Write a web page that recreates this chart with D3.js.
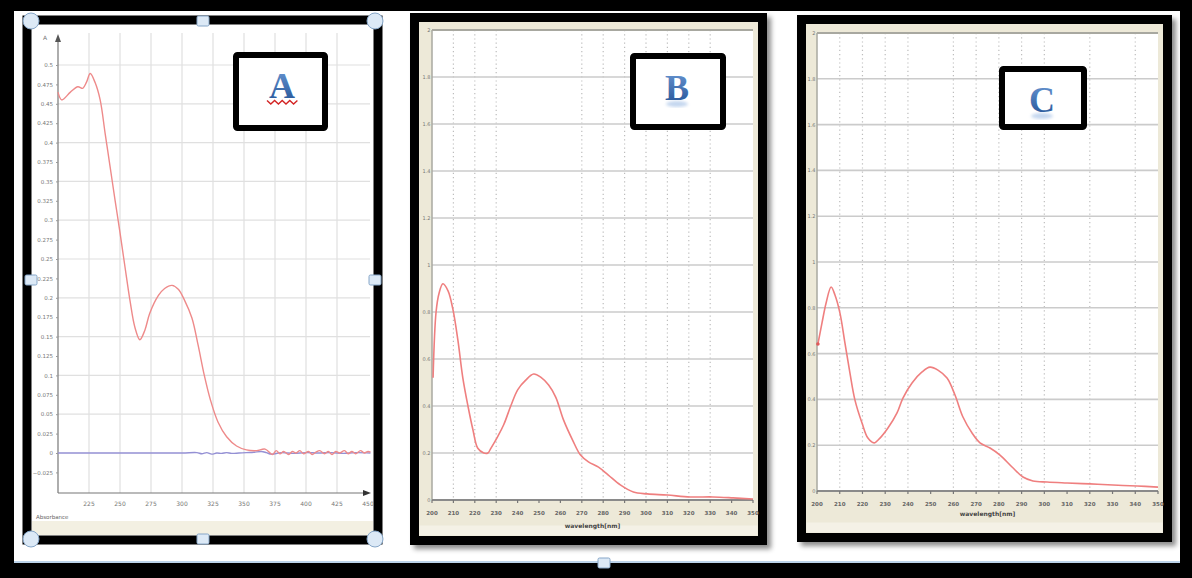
<!DOCTYPE html>
<html>
<head>
<meta charset="utf-8">
<script src="https://cdn.jsdelivr.net/npm/d3@7"></script>
<style>
body { margin: 0; background: #fff; }
svg { display: block; }
text { font-family: "DejaVu Sans", sans-serif; }
</style>
</head>
<body>
<svg id="fig" width="1192" height="578"></svg>
<script>
// ---- panel A : sample spectrum + blue baseline ----
const waveA = [200,203,210,216,220,223,226,230,234,238,242,246,250,254,258,262,266,270,274,
    281,286,292,297,302,308,313,318,323,329,336,344,352,360,367,373,
    376,379,382,386,389,392,395,398,402,405,408,411,415,418,421,424,427,431,434,437,440,444,447,450,452];
const absA = [0.465,0.455,0.465,0.472,0.470,0.478,0.489,0.477,0.455,0.412,0.369,0.326,0.284,0.240,0.197,0.162,0.146,0.158,0.180,
    0.203,0.212,0.216,0.211,0.197,0.174,0.139,0.100,0.068,0.040,0.021,0.009,0.004,0.003,0.005,-0.002,
    0.003,-0.001,0.002,-0.002,0.002,0.000,0.003,-0.001,0.002,-0.002,0.001,0.003,-0.001,0.002,-0.002,0.002,0.000,0.003,-0.001,0.002,-0.001,0.003,0.000,0.002,0.001];
const waveBaseA = [200,250,300,312,316,320,324,328,332,336,340,346,352,358,364,368,372,380,390,400,410,420,430,440,452];
const absBaseA = [0,0,0,0.0005,-0.001,0.0005,-0.0015,0,-0.0005,0.0005,-0.0005,0,0.0005,0.001,0.002,0.0005,-0.0015,0.0005,-0.0005,0.0005,0,0.0005,-0.0005,0.0005,0];
const xTicksA = [225,250,275,300,325,350,375,400,425,450];
const yTicksA = [0.5,0.475,0.45,0.425,0.4,0.375,0.35,0.325,0.3,0.275,0.25,0.225,0.2,0.175,0.15,0.125,0.1,0.075,0.05,0.025,0,-0.025];
const gridYA = [0.5,0.45,0.4,0.35,0.3,0.25,0.2,0.15,0.1,0.05];

// ---- panel B ----
const waveB = [200.5,201.9,203.3,205.1,207.5,209.8,212.1,214.4,216.8,219.1,221.4,224.2,226.1,227.5,230.7,233.5,236.8,240.1,243.8,247.5,
    250.8,254.5,257.8,261.5,265.7,269.4,273.1,277.8,282.4,288.0,294.1,300.6,309.9,320.6,331.3,340.7,350];
const absB = [0.52,0.80,0.88,0.92,0.89,0.81,0.68,0.52,0.40,0.30,0.22,0.20,0.20,0.22,0.27,0.32,0.40,0.47,0.51,0.536,
    0.523,0.489,0.438,0.34,0.255,0.191,0.162,0.14,0.106,0.064,0.034,0.026,0.021,0.013,0.013,0.009,0.004];
const gridXB = [210,220,230,270,280,290,300,310,320,330];

// ---- panel C ----
const waveC = [200.4,202.2,204.0,206.2,207.9,210.1,212.3,214.5,216.7,219.8,222.4,225.1,227.7,231.2,235.2,237.8,241.8,246.2,249.7,253.2,
    257.2,260.7,264.2,268.2,271.7,276.1,280.5,285.8,290.6,295.0,301.2,310.0,320.1,330.2,340.8,350.0];
const absC = [0.642,0.734,0.821,0.891,0.856,0.777,0.646,0.515,0.397,0.297,0.231,0.210,0.231,0.275,0.341,0.406,0.472,0.520,0.541,0.528,
    0.493,0.419,0.323,0.253,0.210,0.188,0.157,0.105,0.061,0.044,0.039,0.035,0.031,0.026,0.022,0.017];
const gridXC = [210,220,230,240,260,270,280,290,300,320,340];

// shared ticks for B and C
const xTicksBC = [200,210,220,230,240,250,260,270,280,290,300,310,320,330,340,350];
const yTicksBC = [0,0.2,0.4,0.6,0.8,1,1.2,1.4,1.6,1.8,2];
const panelLetters = ["A", "B", "C"];

let svg = d3.select("#fig");
let defs = svg.append("defs");

defs.append("filter").attr("id", "shadow")
    .attr("x", "-5%").attr("y", "-5%").attr("width", "115%").attr("height", "115%")
    .append("feDropShadow")
    .attr("dx", 4).attr("dy", 4).attr("stdDeviation", 2.5)
    .attr("flood-color", "#000").attr("flood-opacity", 0.45);
defs.append("filter").attr("id", "soft")
    .append("feGaussianBlur").attr("stdDeviation", 1.5);

let grad = defs.append("linearGradient").attr("id", "letterFill")
    .attr("x1", 0).attr("y1", 0).attr("x2", 0).attr("y2", 1);
grad.append("stop").attr("offset", "0%").attr("stop-color", "#6d9ad6");
grad.append("stop").attr("offset", "100%").attr("stop-color", "#1f4f92");

// outer black frame
svg.append("rect").attr("width", 1192).attr("height", 578).attr("fill", "#000");
svg.append("rect").attr("x", 14).attr("y", 11).attr("width", 1166).attr("height", 552).attr("fill", "#fff");
svg.append("line").attr("x1", 14).attr("x2", 1180).attr("y1", 562).attr("y2", 562)
    .attr("stroke", "#bcd3ea").attr("stroke-width", 2);

function handleSquare(cx, cy) {
    svg.append("rect").attr("x", cx - 6).attr("y", cy - 5).attr("width", 12).attr("height", 10).attr("rx", 1.5)
        .attr("fill", "#dce9f6").attr("stroke", "#86a6c8").attr("stroke-width", 1);
}
function handleCircle(cx, cy) {
    svg.append("circle").attr("cx", cx).attr("cy", cy).attr("r", 8)
        .attr("fill", "#dce9f6").attr("stroke", "#86a6c8").attr("stroke-width", 1);
}

function labelBox(x, y, w, h, letter, lx, ly, reflect) {
    svg.append("rect").attr("x", x).attr("y", y).attr("width", w).attr("height", h)
        .attr("fill", "#fff").attr("stroke", "#000").attr("stroke-width", 6).attr("rx", 1.5);
    if (reflect) {
        // faint mirrored glow under the letter
        svg.append("ellipse").attr("cx", lx).attr("cy", ly + 4).attr("rx", 11).attr("ry", 3)
            .attr("fill", "#7ea6dc").attr("opacity", 0.45).attr("filter", "url(#soft)");
    }
    svg.append("text").attr("x", lx).attr("y", ly)
        .attr("text-anchor", "middle")
        .style("font-family", "'Liberation Serif', serif").style("font-weight", "bold").style("font-size", "36px")
        .attr("fill", "url(#letterFill)").text(letter);
}

// =============== panel A ===============
let xA = d3.scaleLinear().domain([200, 450]).range([58, 368]);
let yA = d3.scaleLinear().domain([0, 0.5]).range([453, 65]);

svg.append("rect").attr("x", 27).attr("y", 20).attr("width", 351).attr("height", 520)
    .attr("fill", "#fff").attr("stroke", "#000").attr("stroke-width", 9);
svg.append("rect").attr("x", 32).attr("y", 521).attr("width", 341).attr("height", 14).attr("fill", "#f3f0e2");

let gA = svg.append("g");
gA.selectAll("line.gy").data(gridYA).join("line").attr("class", "gy")
    .attr("x1", 58).attr("x2", 370)
    .attr("y1", d => yA(d)).attr("y2", d => yA(d))
    .attr("stroke", "#e0e0e0").attr("stroke-width", 1.2);
gA.selectAll("line.gx").data(xTicksA.slice(0, -1)).join("line").attr("class", "gx")
    .attr("x1", d => xA(d)).attr("x2", d => xA(d))
    .attr("y1", 33).attr("y2", 493)
    .attr("stroke", "#e0e0e0").attr("stroke-width", 1.2);

// axes lines + arrows
gA.append("line").attr("x1", 58).attr("x2", 58).attr("y1", 38).attr("y2", 493).attr("stroke", "#777").attr("stroke-width", 1.2);
gA.append("line").attr("x1", 58).attr("x2", 368).attr("y1", 493).attr("y2", 493).attr("stroke", "#777").attr("stroke-width", 1.2);
gA.append("path").attr("d", "M55,42 L58,34 L61,42 Z").attr("fill", "#555");
gA.append("path").attr("d", "M363,490 L371,493 L363,496 Z").attr("fill", "#333");

let axisYA = d3.axisLeft(yA).tickValues(yTicksA).tickSize(2).tickFormat(d3.format("~g"));
gA.append("g").attr("transform", "translate(58,0)").call(axisYA)
    .call(g => g.select(".domain").remove())
    .call(g => g.selectAll("text").attr("font-size", 5.5).attr("fill", "#777").style("font-family", "'DejaVu Sans', sans-serif"))
    .call(g => g.selectAll("line").attr("stroke", "#999"));

gA.selectAll("text.xl").data(xTicksA).join("text").attr("class", "xl")
    .attr("x", d => xA(d)).attr("y", 506)
    .attr("text-anchor", "middle").attr("font-size", 6).attr("fill", "#777")
    .text(d => d);
gA.append("text").attr("x", 43).attr("y", 40).attr("font-size", 6).attr("fill", "#777").text("A");
gA.append("text").attr("x", 36).attr("y", 519).attr("font-size", 5.5).attr("fill", "#666").text("Absorbance");

let lineA = d3.line().x(d => xA(d[0])).y(d => yA(d[1])).curve(d3.curveCatmullRom);
gA.append("path").datum(d3.zip(waveBaseA, absBaseA)).attr("d", lineA)
    .attr("fill", "none").attr("stroke", "#9490d4").attr("stroke-width", 1.4);
gA.append("path").datum(d3.zip(waveA, absA)).attr("d", lineA)
    .attr("fill", "none").attr("stroke", "#ee8a8a").attr("stroke-width", 1.4);

labelBox(236, 55, 89, 73, panelLetters[0], 282, 98, false);
// wavy red underline under the A
let wave = d3.range(0, 9).map(i => [267 + i * 3.8, i % 2 ? 104 : 100.5]);
svg.append("path").attr("d", d3.line()(wave)).attr("fill", "none").attr("stroke", "#d32424").attr("stroke-width", 1.4);

[[31, 21], [375, 21], [31, 539], [375, 539]].forEach(p => handleCircle(p[0], p[1]));
[[203, 21], [31, 280], [375, 280], [203, 539]].forEach(p => handleSquare(p[0], p[1]));

// =============== panels B and C ===============
function drawSpectrum(cfg) {
    let x = d3.scaleLinear().domain([200, 350]).range([cfg.left, cfg.right]);
    let y = d3.scaleLinear().domain([0, 2]).range([cfg.bottom, cfg.top]);
    let g = svg.append("g");

    g.append("rect").attr("x", cfg.frame[0]).attr("y", cfg.frame[1]).attr("width", cfg.frame[2]).attr("height", cfg.frame[3])
        .attr("fill", "#ede9d8").attr("stroke", "#000").attr("stroke-width", 9).attr("filter", "url(#shadow)");
    g.append("rect").attr("x", cfg.left).attr("y", cfg.top).attr("width", cfg.right - cfg.left).attr("height", cfg.bottom - cfg.top)
        .attr("fill", "#fff");
    // lighter strip at the very bottom
    g.append("rect").attr("x", cfg.frame[0] + 5).attr("y", cfg.frame[1] + cfg.frame[3] - 15)
        .attr("width", cfg.frame[2] - 10).attr("height", 10).attr("fill", "#f4f1e6");

    g.selectAll("line.vx").data(cfg.gridX).join("line").attr("class", "vx")
        .attr("x1", d => x(d)).attr("x2", d => x(d))
        .attr("y1", cfg.top).attr("y2", cfg.bottom)
        .attr("stroke", "#bdbdbd").attr("stroke-width", 1.2).attr("stroke-dasharray", "1.2,3");
    g.selectAll("line.hy").data(yTicksBC.slice(1, -1)).join("line").attr("class", "hy")
        .attr("x1", cfg.left).attr("x2", cfg.right)
        .attr("y1", d => y(d)).attr("y2", d => y(d))
        .attr("stroke", "#cbcbcb").attr("stroke-width", 1.6);

    // plot border: top line, left axis, bottom axis
    g.append("line").attr("x1", cfg.left).attr("x2", cfg.right).attr("y1", cfg.top).attr("y2", cfg.top)
        .attr("stroke", "#a8a8a0").attr("stroke-width", 2);
    g.append("line").attr("x1", cfg.left).attr("x2", cfg.left).attr("y1", cfg.top).attr("y2", cfg.bottom)
        .attr("stroke", "#a8a8a0").attr("stroke-width", 1.5);
    g.append("line").attr("x1", cfg.left).attr("x2", cfg.right).attr("y1", cfg.bottom).attr("y2", cfg.bottom)
        .attr("stroke", "#8a8a8a").attr("stroke-width", 2);

    g.selectAll("line.tk").data(xTicksBC).join("line").attr("class", "tk")
        .attr("x1", d => x(d)).attr("x2", d => x(d))
        .attr("y1", cfg.bottom).attr("y2", cfg.bottom + 3)
        .attr("stroke", "#777").attr("stroke-width", 1.2);
    g.selectAll("text.xl").data(xTicksBC).join("text").attr("class", "xl")
        .attr("x", d => x(d)).attr("y", cfg.bottom + 15)
        .attr("text-anchor", "middle").attr("font-size", 5.5).attr("font-weight", "bold").attr("fill", "#666")
        .text(d => d);
    g.selectAll("text.yl").data(yTicksBC).join("text").attr("class", "yl")
        .attr("x", cfg.left - 1.5).attr("y", d => y(d) + 2)
        .attr("text-anchor", "end").attr("font-size", 5).attr("fill", "#777")
        .text(d => d3.format("~g")(d));
    g.append("text").attr("x", (cfg.left + cfg.right) / 2).attr("y", cfg.bottom + cfg.titleDy)
        .attr("text-anchor", "middle").attr("font-size", 6).attr("font-weight", "bold").attr("fill", "#444")
        .text("wavelength[nm]");

    let line = d3.line().x(d => x(d[0])).y(d => y(d[1])).curve(d3.curveCatmullRom);
    g.append("path").datum(d3.zip(cfg.wave, cfg.abs)).attr("d", line)
        .attr("fill", "none").attr("stroke", "#ef7f7f").attr("stroke-width", 1.6);
    if (cfg.startDot)
        g.append("circle").attr("cx", x(cfg.wave[0])).attr("cy", y(cfg.abs[0])).attr("r", 1.8).attr("fill", "#e05a5a");
}

drawSpectrum({
    frame: [414.5, 17.5, 348, 523],
    left: 432, right: 753, top: 30, bottom: 500, titleDy: 28,
    gridX: gridXB, wave: waveB, abs: absB, startDot: false
});
labelBox(633, 56, 90, 71, panelLetters[1], 677, 100, true);

drawSpectrum({
    frame: [801.5, 19.5, 366, 518],
    left: 817, right: 1158, top: 33, bottom: 491, titleDy: 25,
    gridX: gridXC, wave: waveC, abs: absC, startDot: true
});
labelBox(1002, 69, 82, 58, panelLetters[2], 1042, 112, true);

// selection handle of the outer picture
handleSquare(604, 563);
</script>
</body>
</html>
